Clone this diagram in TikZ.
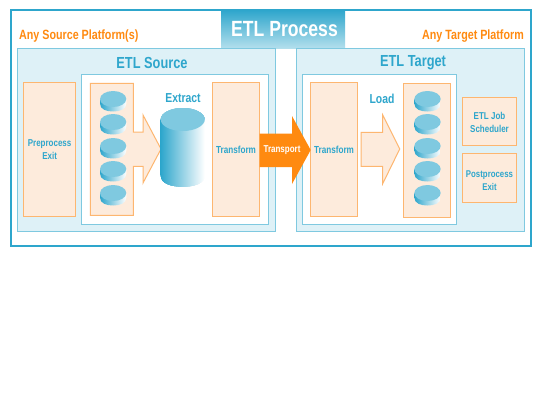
\documentclass[tikz,border=0pt]{standalone}
\usepackage{fontspec}
\setmainfont[FakeStretch=0.8]{Liberation Sans}
\definecolor{etlblue}{HTML}{2EA6CC}
\definecolor{etlline}{HTML}{7FC9E0}
\definecolor{etlpale}{HTML}{DEF1F7}
\definecolor{etlpeach}{HTML}{FDEBDC}
\definecolor{etledge}{HTML}{FDB670}
\definecolor{etlorange}{HTML}{FF8A10}
\tikzset{
    panelbox/.style={draw=etlline,fill=etlpale,line width=1pt},
    innerbox/.style={draw=etlline,fill=white,line width=1pt},
    peachbox/.style={draw=etledge,fill=etlpeach,line width=1pt},
    bluelabel/.style={text=etlblue,font=\bfseries\fontsize{#1}{#1}\selectfont,align=center},
    orangelabel/.style={text=etlorange,inner sep=0pt,font=\bfseries\fontsize{13.4}{13.4}\selectfont},
}
% one disk or drum: #1 left, #2 right, #3 top, #4 bottom, #5 ellipse height
\newcommand{\etldrum}[5]{
    \shade[left color=etlblue,right color=white]
        (#1,#3+#5/2) -- (#1,#4-#5/2)
        .. controls (#1,#4-#5/8) and (#1+#2/4-#1/4,#4) .. (#1/2+#2/2,#4)
        .. controls (#2/4*3+#1/4,#4) and (#2,#4-#5/8) .. (#2,#4-#5/2)
        -- (#2,#3+#5/2) -- cycle;
    \fill[etlline] (#1/2+#2/2,#3+#5/2) ellipse[x radius=#2/2-#1/2,y radius=#5/2];
}
\begin{document}
\begin{tikzpicture}[x=1pt,y=-1pt]
    \useasboundingbox (0,0) rectangle (559,405);
    \draw[draw=etlblue,fill=white,line width=2pt] (11,10) rectangle (531,246);
    \shade[top color=etlblue,middle color=etlblue!90!white,bottom color=etlline!60!white]
        (221,10) rectangle (345,48);
    \node[text=white,font=\bfseries\fontsize{22}{22}\selectfont] (title) at (284.5,29) {ETL Process};
    \node[orangelabel,anchor=west] (srcplat) at (19,36) {Any Source Platform(s)};
    \node[orangelabel,anchor=east] (tgtplat) at (524,36) {Any Target Platform};

    % source side
    \draw[panelbox] (17.5,48.5) rectangle (275.5,231.5);
    \draw[innerbox] (81.5,74.5) rectangle (268,224.5);
    \node[bluelabel=16] (srctitle) at (152,63) {ETL Source};
    \node[bluelabel=13] (extract) at (183,98.5) {Extract};
    \draw[peachbox] (23.5,82.7) rectangle (75.7,216.7);
    \node[bluelabel=10] (preexit) at (49.6,149.5) {Preprocess\\[3pt]Exit};
    \draw[peachbox] (90.3,83.3) -- (133.3,83.3) -- (133.3,132) -- (143,132) -- (143,115)
        -- (161,149) -- (143,183) -- (143,166.3) -- (133.3,166.3) -- (133.3,215.3)
        -- (90.3,215.3) -- cycle;
    \foreach \y in {91,114,138,161,185}
        \etldrum{100}{126.3}{\y}{\y+20.5}{16}
    \etldrum{160.7}{204.7}{108}{186.7}{23}
    \draw[peachbox] (212.3,82.7) rectangle (259.7,216.7);
    \node[bluelabel=10.2] (srcxform) at (236,150) {Transform};

    % target side
    \draw[panelbox] (296,48.5) rectangle (524.7,231.5);
    \draw[innerbox] (302.7,74.5) rectangle (456.7,224.5);
    \node[bluelabel=16] (tgttitle) at (413,63) {ETL Target};
    \draw[peachbox] (310.3,82.7) rectangle (357.7,216.7);
    \node[bluelabel=10.2] (tgtxform) at (334,150) {Transform};
    \draw[peachbox] (361,132.3) -- (382.7,132.3) -- (382.7,115) -- (399.7,149)
        -- (382.7,183.7) -- (382.7,166.3) -- (361,166.3) -- cycle;
    \node[bluelabel=13] (load) at (382,98.5) {Load};
    \draw[peachbox] (403.3,83.3) rectangle (450.7,217.3);
    \foreach \y in {91,114,138,161,185}
        \etldrum{414.3}{440.7}{\y}{\y+20.5}{16}
    \draw[peachbox] (462.3,97.3) rectangle (516.7,145.7);
    \node[bluelabel=10] (jobsched) at (489.5,122.5) {ETL Job\\[3pt]Scheduler};
    \draw[peachbox] (462.3,153.3) rectangle (516.7,202);
    \node[bluelabel=9.8] (postexit) at (489.5,180.5) {Postprocess\\[3pt]Exit};

    % transport arrow across the two sides
    \fill[etlorange] (259.7,133.7) -- (292,133.7) -- (292,116) -- (310.7,150)
        -- (292,184) -- (292,167) -- (259.7,167) -- cycle;
    \node[text=white,font=\bfseries\fontsize{10}{10}\selectfont] (transport) at (282,150) {Transport};
\end{tikzpicture}
\end{document}
